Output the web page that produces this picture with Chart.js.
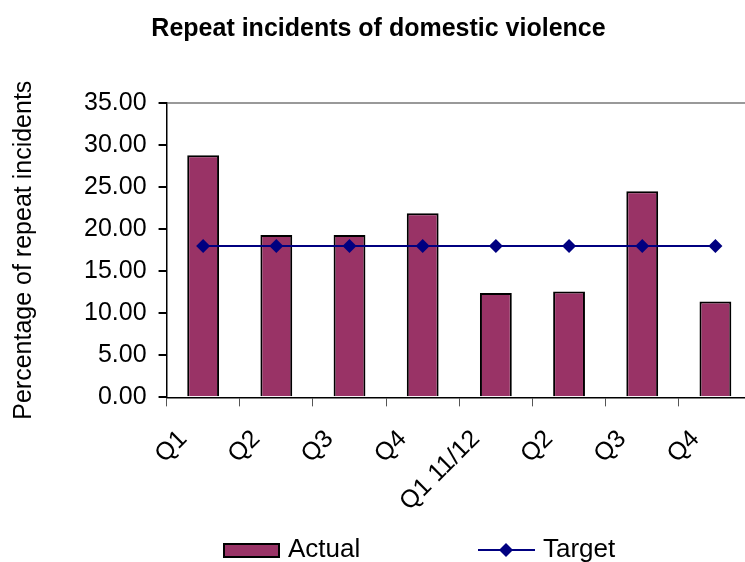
<!DOCTYPE html>
<html>
<head>
<meta charset="utf-8">
<title>Repeat incidents of domestic violence</title>
<script src="https://cdn.jsdelivr.net/npm/chart.js@4.4.0/dist/chart.umd.min.js"></script>
<style>
  html, body { margin: 0; padding: 0; background: #fff; overflow: hidden; }
  #wrap { width: 745px; height: 562px; overflow: hidden; }
</style>
</head>
<body>
<div id="wrap"><canvas id="repeatChart" width="752" height="562"></canvas></div>
<script>
// Chart data
const quarters = ['Q1', 'Q2', 'Q3', 'Q4', 'Q1 11/12', 'Q2', 'Q3', 'Q4'];
const actualValues = [28.8, 19.3, 19.3, 21.9, 12.4, 12.6, 24.5, 11.4];
const targetValues = [18, 18, 18, 18, 18, 18, 18, 18];
const yTickValues = [0, 5, 10, 15, 20, 25, 30, 35];

const FONT = '"Liberation Sans", Arial, sans-serif';

// Excel-style legend drawn under the chart
const bottomLegend = {
    id: 'bottomLegend',
    afterDraw(chart) {
        const ctx = chart.ctx;
        const bars = chart.data.datasets[0];
        const line = chart.data.datasets[1];
        const baseY = 557;
        ctx.save();
        ctx.font = '26px ' + FONT;
        ctx.textBaseline = 'alphabetic';

        // Actual: filled box
        ctx.fillStyle = bars.backgroundColor;
        ctx.fillRect(224, 544, 55, 13);
        ctx.strokeStyle = bars.borderColor;
        ctx.lineWidth = 2;
        ctx.strokeRect(224, 544, 55, 13);
        ctx.fillStyle = '#000';
        ctx.fillText(bars.label, 288, baseY);

        // Target: line with a diamond
        ctx.strokeStyle = line.borderColor;
        ctx.lineWidth = 2;
        ctx.beginPath();
        ctx.moveTo(478, 550);
        ctx.lineTo(535, 550);
        ctx.stroke();
        ctx.fillStyle = line.pointBackgroundColor;
        ctx.beginPath();
        ctx.moveTo(506, 543);
        ctx.lineTo(513, 550);
        ctx.lineTo(506, 557);
        ctx.lineTo(499, 550);
        ctx.closePath();
        ctx.fill();
        ctx.fillStyle = '#000';
        ctx.fillText(line.label, 543, baseY);
        ctx.restore();
    }
};

const ctx = document.getElementById('repeatChart').getContext('2d');
new Chart(ctx, {
    type: 'bar',
    data: {
        labels: quarters,
        datasets: [
            {
                type: 'bar',
                label: 'Actual',
                data: actualValues,
                backgroundColor: '#993366',
                borderColor: '#000000',
                borderWidth: 2,
                barPercentage: 0.435,
                categoryPercentage: 1,
                order: 2
            },
            {
                type: 'line',
                label: 'Target',
                data: targetValues,
                borderColor: '#000080',
                borderWidth: 2,
                pointStyle: 'rectRot',
                pointRadius: 7,
                pointHoverRadius: 7,
                pointBackgroundColor: '#000080',
                pointBorderColor: '#000080',
                pointBorderWidth: 0,
                tension: 0,
                order: 1
            }
        ]
    },
    options: {
        responsive: false,
        animation: false,
        layout: {
            // plot area runs right up to the (cropped) edge, like the original
            autoPadding: false,
            padding: { top: 0, left: 5, right: 0, bottom: 27 }
        },
        plugins: {
            legend: { display: false },
            tooltip: { enabled: false },
            title: {
                display: true,
                text: 'Repeat incidents of domestic violence',
                color: '#000',
                font: { family: FONT, size: 25, weight: 'bold' },
                padding: { top: 14, bottom: 59 }
            }
        },
        scales: {
            x: {
                offset: true,
                afterFit: (scale) => { scale.paddingRight = 0; },
                grid: {
                    offset: true,
                    drawOnChartArea: false,
                    drawTicks: true,
                    tickLength: 9,
                    tickColor: '#555'
                },
                border: { color: '#000', width: 1.5 },
                ticks: {
                    autoSkip: false,
                    minRotation: 45,
                    maxRotation: 45,
                    labelOffset: -20,
                    padding: 18,
                    color: '#000',
                    font: { family: FONT, size: 25 }
                }
            },
            y: {
                min: 0,
                max: 35,
                afterBuildTicks: (axis) => {
                    axis.ticks = yTickValues.map(v => ({ value: v }));
                },
                grid: {
                    drawTicks: true,
                    tickLength: 8,
                    tickColor: '#000',
                    color: (c) => (c.tick && c.tick.value === 35) ? '#999999' : 'rgba(0,0,0,0)',
                    lineWidth: 2
                },
                border: { color: '#000', width: 1.5 },
                ticks: {
                    padding: 12,
                    color: '#000',
                    font: { family: FONT, size: 25 },
                    callback: (v) => Number(v).toFixed(2)
                },
                title: {
                    display: true,
                    text: 'Percentage of repeat incidents',
                    color: '#000',
                    font: { family: FONT, size: 25 },
                    padding: { top: 4, bottom: 33 }
                }
            }
        }
    },
    plugins: [bottomLegend]
});
</script>
</body>
</html>
